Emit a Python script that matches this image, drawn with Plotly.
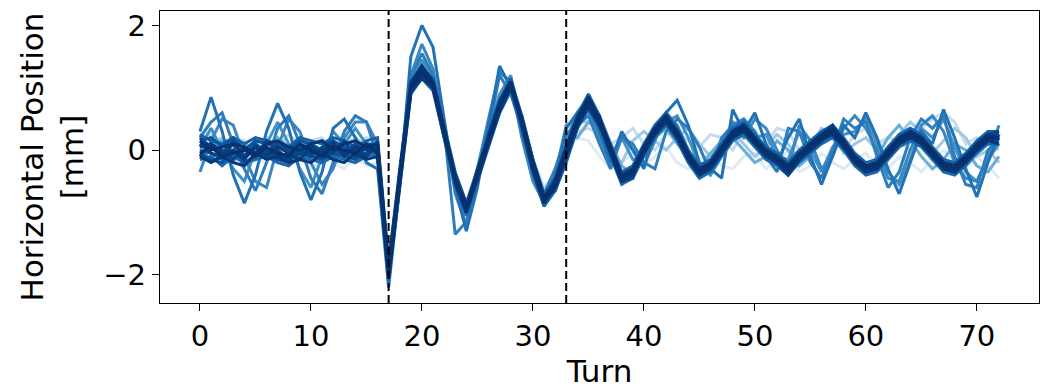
import plotly.graph_objects as go

# ---------------- data ----------------
TURNS = list(range(73))
KICK_TURNS = [17, 33]
Y_TICKS = [-2, 0, 2]
X_TICKS = [0, 10, 20, 30, 40, 50, 60, 70]

light_1 = [-0.2, -0.05, -0.25, -0.1, -0.3, -0.15, -0.2, 0.0, -0.25, -0.1,
           -0.3, -0.15, -0.2, -0.3, -0.1, -0.25, -0.2, -2.15, -0.6, 0.9,
           1.15, 0.95, 0.25, -0.55, -1.1, -0.5, 0.05, 0.6, 0.95, 0.4,
           -0.2, -0.65, -0.35, 0.0, 0.2, 0.15, -0.1, -0.3, -0.2, -0.05,
           -0.25, -0.1, 0.05, -0.2, -0.3, -0.15, -0.05, -0.25, -0.3, -0.1,
           -0.05, -0.3, -0.2, 0.0, -0.35, -0.25, -0.05, -0.2, -0.3, -0.15,
           -0.05, -0.25, -0.3, -0.1, -0.2, -0.35, -0.15, 0.0, -0.2, -0.3,
           -0.1, -0.25, -0.45]
light_2 = [0.1, 0.25, 0.0, 0.2, 0.15, -0.1, 0.2, 0.05, 0.25, 0.1,
           0.15, 0.2, 0.0, 0.25, 0.1, 0.2, 0.15, -1.9, -0.4, 1.0,
           1.25, 1.0, 0.3, -0.5, -1.0, -0.4, 0.2, 0.7, 1.0, 0.5,
           -0.15, -0.6, -0.4, 0.1, 0.3, 0.35, 0.25, 0.1, 0.2, 0.35,
           0.1, 0.0, 0.25, 0.3, 0.15, 0.05, 0.25, 0.2, 0.0, 0.3,
           0.3, 0.1, 0.35, 0.3, 0.0, -0.05, 0.3, 0.2, 0.0, 0.25,
           0.35, 0.1, 0.2, 0.15, 0.0, 0.35, 0.5, 0.6, 0.45, 0.1,
           0.2, 0.1, 0.0]
light_3 = [0.0, 0.1, 0.2, -0.05, 0.0, 0.15, -0.1, 0.1, 0.0, 0.2,
           0.05, -0.05, 0.1, 0.0, 0.2, 0.05, 0.0, -2.0, -0.5, 0.95,
           1.2, 1.05, 0.35, -0.4, -0.9, -0.45, 0.1, 0.65, 1.0, 0.45,
           -0.2, -0.7, -0.45, 0.15, 0.45, 0.45, 0.3, -0.05, -0.2, 0.15,
           0.3, 0.15, 0.0, 0.2, 0.35, 0.1, -0.1, 0.15, 0.3, 0.1,
           -0.1, 0.05, 0.25, 0.1, -0.15, 0.05, 0.35, 0.25, -0.05, 0.1,
           0.2, 0.0, -0.15, 0.25, 0.45, 0.3, -0.05, 0.15, 0.35, 0.2,
           -0.1, 0.0, -0.2]
light_4 = [-0.1, 0.05, 0.15, -0.2, 0.1, 0.0, -0.15, 0.2, 0.05, -0.1,
           0.1, -0.2, 0.0, 0.1, -0.15, 0.05, -0.05, -1.95, -0.45, 1.05,
           1.3, 1.1, 0.3, -0.6, -1.0, -0.35, 0.2, 0.75, 1.05, 0.45,
           -0.2, -0.7, -0.45, 0.3, 0.2, 0.45, 0.35, 0.1, -0.25, -0.4,
           -0.1, 0.2, 0.35, 0.1, -0.1, -0.3, -0.05, 0.15, 0.2, 0.0,
           -0.2, -0.1, 0.15, 0.0, -0.25, -0.1, 0.2, 0.35, 0.15, -0.2,
           -0.35, -0.1, 0.2, 0.4, 0.15, -0.1, -0.3, -0.15, 0.1, 0.0,
           -0.25, -0.35, -0.1]

medium_1 = [0.05, 0.35, 0.0, -0.3, -0.5, 0.0, 0.1, 0.45, 0.1, -0.3,
            -0.6, -0.1, 0.3, 0.1, 0.35, 0.1, -0.15, -2.05, -0.45, 1.05,
            1.45, 1.15, 0.3, -0.6, -1.05, -0.45, 0.3, 0.9, 1.2, 0.4,
            -0.3, -0.75, -0.4, 0.4, 0.45, 0.7, 0.35, -0.1, 0.2, -0.15,
            -0.1, 0.3, 0.45, 0.55, 0.2, -0.25, -0.4, -0.1, 0.45, 0.35,
            0.2, 0.25, -0.1, -0.15, 0.3, 0.0, -0.35, 0.05, 0.25, 0.3,
            0.5, 0.1, -0.35, -0.55, -0.15, 0.35, 0.2, 0.5, 0.05, -0.35,
            -0.5, -0.15, 0.1]
medium_2 = [-0.35, 0.15, 0.5, 0.4, -0.1, -0.5, -0.6, 0.05, 0.5, 0.3,
            -0.2, -0.55, -0.3, 0.2, 0.45, 0.45, 0.1, -2.0, -0.4, 1.2,
            1.7, 1.3, 0.4, -0.7, -1.2, -0.3, 0.5, 1.25, 1.1, 0.2,
            -0.5, -0.85, -0.45, 0.2, 0.55, 0.65, 0.2, -0.25, 0.25, 0.0,
            -0.25, 0.15, 0.6, 0.4, 0.0, -0.35, -0.2, 0.1, 0.4, 0.2,
            0.5, 0.35, 0.0, -0.3, 0.4, 0.15, -0.3, -0.1, 0.35, 0.55,
            0.35, 0.0, -0.45, -0.5, 0.0, 0.4, 0.55, 0.3, -0.2, -0.45,
            -0.5, -0.1, 0.4]
medium_3 = [0.2, 0.45, 0.6, 0.1, -0.3, -0.65, -0.2, 0.35, 0.55, 0.1,
            -0.45, -0.7, -0.2, 0.3, 0.55, 0.45, -0.1, -2.1, -0.5, 1.15,
            1.55, 1.2, 0.35, -1.35, -1.15, -0.5, 0.3, 1.2, 0.9, 0.35,
            -0.4, -0.7, -0.3, 0.25, 0.4, 0.55, 0.1, -0.3, 0.2, 0.1,
            -0.2, -0.3, 0.3, 0.5, 0.35, 0.05, -0.35, 0.2, 0.4, 0.5,
            0.3, -0.1, -0.35, 0.35, 0.3, -0.2, -0.45, 0.0, 0.5, 0.35,
            0.45, -0.1, -0.6, -0.35, 0.2, 0.5, 0.35, 0.55, -0.1, -0.55,
            -0.6, 0.0, 0.2]
medium_4 = [0.3, 0.85, 0.3, -0.4, -0.85, -0.4, 0.3, 0.75, 0.35, -0.35,
            -0.8, -0.35, 0.35, 0.5, 0.2, -0.2, -0.3, -2.2, -0.55, 1.5,
            2.0, 1.65, 0.5, -0.6, -1.3, -0.6, 0.4, 1.35, 1.0, 0.3,
            -0.35, -0.9, -0.5, 0.35, 0.6, 0.85, 0.3, -0.2, 0.3, 0.0,
            -0.3, 0.35, 0.6, 0.8, 0.4, -0.2, -0.3, -0.45, 0.65, 0.3,
            0.6, 0.1, -0.2, 0.2, 0.5, -0.1, -0.55, -0.1, 0.4, 0.2,
            0.6, 0.2, -0.3, -0.7, -0.2, 0.3, 0.1, 0.65, 0.2, -0.3,
            -0.75, -0.2, 0.25]

dark_1 = [-0.15, -0.1, -0.25, -0.1, -0.2, -0.15, -0.1, -0.2, -0.25, -0.1,
          -0.15, -0.2, -0.1, -0.15, -0.2, -0.1, -0.05, -2.1, -0.6, 0.9,
          1.15, 0.95, 0.2, -0.55, -1.05, -0.5, 0.05, 0.6, 0.95, 0.35,
          -0.35, -0.9, -0.65, -0.2, 0.35, 0.65, 0.35, -0.1, -0.55, -0.45,
          -0.1, 0.2, 0.4, 0.15, -0.2, -0.45, -0.35, -0.1, 0.15, 0.25,
          0.05, -0.15, -0.25, -0.4, -0.2, -0.05, 0.1, 0.2, 0.0, -0.25,
          -0.4, -0.35, -0.15, 0.05, 0.15, 0.05, -0.15, -0.35, -0.4, -0.25,
          -0.05, 0.1, 0.1]
dark_2 = [0.25, 0.15, 0.1, 0.2, 0.1, 0.2, 0.15, 0.1, 0.05, 0.2,
          0.15, 0.1, 0.2, 0.15, 0.05, 0.15, 0.2, -1.8, -0.3, 1.1,
          1.3, 1.15, 0.4, -0.35, -0.85, -0.3, 0.25, 0.8, 1.15, 0.55,
          -0.15, -0.7, -0.45, 0.05, 0.55, 0.9, 0.55, 0.1, -0.35, -0.25,
          0.1, 0.4, 0.6, 0.35, 0.0, -0.25, -0.15, 0.1, 0.35, 0.45,
          0.25, 0.05, -0.05, -0.2, 0.0, 0.15, 0.3, 0.4, 0.2, -0.05,
          -0.2, -0.15, 0.05, 0.25, 0.35, 0.25, 0.05, -0.15, -0.2, -0.05,
          0.15, 0.3, 0.3]
dark_3 = [0.0, -0.05, -0.15, -0.05, -0.1, 0.05, 0.0, -0.1, -0.15, 0.05,
          -0.05, -0.1, 0.0, -0.05, -0.1, -0.05, 0.05, -2.0, -0.45, 1.0,
          1.25, 1.05, 0.3, -0.45, -0.95, -0.4, 0.15, 0.7, 1.05, 0.45,
          -0.25, -0.8, -0.55, -0.05, 0.45, 0.75, 0.45, 0.0, -0.45, -0.35,
          0.0, 0.3, 0.5, 0.25, -0.1, -0.35, -0.25, 0.0, 0.25, 0.35,
          0.15, -0.05, -0.15, -0.3, -0.1, 0.05, 0.2, 0.3, 0.1, -0.15,
          -0.3, -0.25, -0.05, 0.15, 0.25, 0.15, -0.05, -0.25, -0.3, -0.15,
          0.05, 0.2, 0.2]
dark_4 = [0.15, 0.2, 0.05, 0.2, 0.0, 0.15, 0.1, 0.05, 0.0, 0.15,
          0.1, 0.0, 0.15, 0.05, 0.0, 0.1, 0.1, -1.9, -0.4, 1.05,
          1.3, 1.1, 0.25, -0.5, -0.95, -0.35, 0.2, 0.75, 1.05, 0.4,
          -0.3, -0.8, -0.5, 0.0, 0.5, 0.8, 0.45, -0.05, -0.5, -0.35,
          0.05, 0.35, 0.5, 0.25, -0.15, -0.35, -0.2, 0.05, 0.3, 0.35,
          0.1, -0.05, -0.2, -0.3, -0.05, 0.1, 0.25, 0.35, 0.1, -0.15,
          -0.3, -0.25, 0.0, 0.2, 0.25, 0.1, -0.05, -0.25, -0.3, -0.15,
          0.05, 0.25, 0.25]
dark_5 = [-0.05, -0.15, -0.2, 0.0, -0.2, -0.1, -0.05, -0.15, -0.2, 0.0,
          -0.1, -0.15, -0.05, -0.1, -0.15, -0.05, 0.0, -2.05, -0.55, 0.9,
          1.2, 1.0, 0.35, -0.4, -0.85, -0.5, 0.1, 0.6, 1.0, 0.55,
          -0.15, -0.75, -0.65, -0.15, 0.35, 0.7, 0.5, 0.05, -0.4, -0.4,
          -0.05, 0.25, 0.5, 0.3, -0.05, -0.3, -0.3, -0.05, 0.2, 0.35,
          0.2, 0.0, -0.15, -0.3, -0.15, 0.0, 0.15, 0.3, 0.15, -0.1,
          -0.3, -0.3, -0.1, 0.1, 0.2, 0.2, 0.0, -0.2, -0.3, -0.15,
          0.0, 0.15, 0.15]
dark_6 = [0.2, 0.05, -0.05, 0.15, -0.1, 0.1, -0.05, 0.1, 0.0, -0.05,
          -0.1, 0.05, 0.15, -0.05, 0.1, -0.1, 0.15, -1.85, -0.35, 1.1,
          1.35, 1.0, 0.2, -0.55, -1.0, -0.3, 0.25, 0.8, 1.1, 0.35,
          -0.35, -0.85, -0.45, 0.05, 0.55, 0.8, 0.55, -0.05, -0.5, -0.45,
          0.05, 0.35, 0.55, 0.2, -0.15, -0.4, -0.2, 0.05, 0.3, 0.4,
          0.1, -0.1, -0.2, -0.35, -0.05, 0.1, 0.25, 0.25, 0.05, -0.2,
          -0.35, -0.2, 0.0, 0.2, 0.3, 0.1, -0.1, -0.3, -0.35, -0.2,
          0.1, 0.25, 0.15]
dark_7 = [-0.1, 0.1, 0.0, -0.15, 0.05, -0.1, 0.15, 0.0, -0.15, -0.05,
          0.1, -0.1, -0.05, 0.15, -0.1, 0.05, -0.05, -2.0, -0.5, 0.95,
          1.2, 1.1, 0.35, -0.4, -0.9, -0.45, 0.1, 0.65, 1.0, 0.5,
          -0.2, -0.75, -0.6, -0.1, 0.4, 0.7, 0.4, 0.05, -0.4, -0.3,
          -0.05, 0.25, 0.45, 0.3, -0.05, -0.3, -0.3, -0.05, 0.2, 0.3,
          0.2, 0.0, -0.1, -0.25, -0.15, 0.0, 0.15, 0.35, 0.15, -0.1,
          -0.25, -0.3, -0.1, 0.1, 0.3, 0.2, 0.0, -0.2, -0.25, -0.1,
          0.0, 0.15, 0.25]
dark_8 = [0.1, -0.05, -0.1, 0.1, -0.1, 0.05, 0.0, -0.1, -0.05, 0.1,
          -0.05, 0.0, 0.1, -0.05, 0.0, -0.1, 0.1, -1.9, -0.4, 1.05,
          1.3, 1.0, 0.25, -0.5, -1.0, -0.35, 0.2, 0.75, 1.1, 0.4,
          -0.3, -0.85, -0.5, 0.0, 0.5, 0.85, 0.5, -0.05, -0.5, -0.4,
          0.05, 0.35, 0.55, 0.2, -0.15, -0.4, -0.3, 0.05, 0.3, 0.4,
          0.2, -0.05, -0.2, -0.4, -0.15, 0.1, 0.25, 0.4, 0.15, -0.2,
          -0.35, -0.3, -0.05, 0.2, 0.3, 0.2, -0.1, -0.3, -0.35, -0.2,
          0.1, 0.25, 0.3]
dark_9 = [0.05, 0.1, -0.05, 0.0, -0.15, 0.05, -0.1, 0.05, -0.05, -0.15,
          0.05, -0.05, 0.1, -0.1, 0.05, 0.0, 0.0, -1.95, -0.5, 1.0,
          1.2, 1.0, 0.3, -0.5, -0.9, -0.4, 0.15, 0.65, 1.05, 0.5,
          -0.2, -0.75, -0.6, 0.0, 0.45, 0.7, 0.4, 0.05, -0.45, -0.3,
          0.0, 0.3, 0.45, 0.3, -0.1, -0.3, -0.25, 0.05, 0.25, 0.3,
          0.15, 0.0, -0.15, -0.25, -0.1, 0.1, 0.2, 0.25, 0.1, -0.1,
          -0.25, -0.2, -0.05, 0.15, 0.2, 0.15, -0.05, -0.2, -0.25, -0.1,
          0.05, 0.15, 0.2]
dark_10 = [-0.1, -0.2, -0.1, -0.2, -0.25, -0.05, -0.15, -0.1, -0.2, -0.15,
           -0.2, -0.05, -0.15, -0.2, -0.05, -0.15, -0.1, -2.05, -0.5, 0.95,
           1.15, 1.0, 0.25, -0.5, -1.0, -0.45, 0.1, 0.65, 1.0, 0.45,
           -0.3, -0.85, -0.6, -0.1, 0.4, 0.7, 0.4, -0.05, -0.5, -0.4,
           -0.05, 0.25, 0.45, 0.2, -0.15, -0.4, -0.3, -0.05, 0.2, 0.3,
           0.1, -0.1, -0.2, -0.35, -0.15, 0.0, 0.15, 0.25, 0.05, -0.2,
           -0.35, -0.3, -0.1, 0.1, 0.2, 0.1, -0.1, -0.3, -0.35, -0.2,
           0.0, 0.15, 0.1]
dark_11 = [0.15, 0.0, 0.05, 0.1, 0.05, -0.05, 0.1, 0.15, 0.05, 0.0,
           0.1, 0.15, 0.0, 0.1, 0.15, 0.05, 0.1, -1.85, -0.35, 1.05,
           1.35, 1.1, 0.35, -0.45, -0.9, -0.35, 0.2, 0.75, 1.1, 0.5,
           -0.2, -0.75, -0.5, 0.05, 0.5, 0.85, 0.5, 0.05, -0.4, -0.3,
           0.05, 0.35, 0.55, 0.3, -0.05, -0.3, -0.2, 0.05, 0.3, 0.4,
           0.2, 0.0, -0.1, -0.25, -0.05, 0.1, 0.25, 0.35, 0.15, -0.1,
           -0.25, -0.2, 0.0, 0.2, 0.3, 0.2, 0.0, -0.2, -0.25, -0.1,
           0.1, 0.25, 0.2]
dark_12 = [-0.05, 0.05, -0.1, -0.05, 0.0, -0.1, 0.05, -0.05, -0.1, 0.1,
           0.0, -0.1, 0.05, 0.0, -0.05, 0.1, -0.05, -2.0, -0.45, 1.0,
           1.25, 1.05, 0.3, -0.45, -0.95, -0.4, 0.15, 0.7, 1.05, 0.45,
           -0.25, -0.8, -0.55, -0.05, 0.45, 0.8, 0.45, 0.0, -0.45, -0.35,
           0.0, 0.3, 0.5, 0.25, -0.1, -0.35, -0.25, 0.0, 0.25, 0.35,
           0.15, -0.05, -0.15, -0.3, -0.1, 0.05, 0.2, 0.3, 0.1, -0.15,
           -0.3, -0.25, -0.05, 0.15, 0.25, 0.15, -0.05, -0.25, -0.3, -0.15,
           0.05, 0.2, 0.2]

SERIES = [light_1, light_2, light_3, light_4,
          medium_1, medium_2, medium_3, medium_4,
          dark_1, dark_2, dark_3, dark_4, dark_5, dark_6,
          dark_7, dark_8, dark_9, dark_10, dark_11, dark_12]

# ---------------- style ----------------
LINE_COLORS = ["#deebf7", "#c6dbef", "#9ecae1", "#6baed6",
               "#4292c6", "#3a87c1", "#2f7dbb", "#2171b5",
               "#1a68ae", "#1562a8", "#105ba4", "#0b559f",
               "#08509a", "#084b93", "#08468c", "#084184",
               "#083c7d", "#083776", "#083370", "#08306b"]
FONT = "DejaVu Sans"

fig = go.Figure()
for ys, col in zip(SERIES, LINE_COLORS):
    fig.add_trace(go.Scatter(x=TURNS[:len(ys)], y=ys, mode="lines",
                             line=dict(color=col, width=3),
                             showlegend=False, hoverinfo="skip"))

for k in KICK_TURNS:
    fig.add_vline(x=k, line=dict(color="black", width=2, dash="8px,4px"))

axis_common = dict(showline=True, linecolor="black", linewidth=1.3, mirror=True,
                   ticks="outside", ticklen=7, tickwidth=1.3, tickcolor="black",
                   showgrid=False, zeroline=False,
                   tickfont=dict(family=FONT, size=29, color="black"))

fig.update_layout(
    width=1048, height=389,
    margin=dict(l=160, r=8, t=11, b=82),
    plot_bgcolor="white", paper_bgcolor="white",
    xaxis=dict(range=[-3.6, 75.6], tickvals=X_TICKS,
               title=dict(text="Turn", font=dict(family=FONT, size=31, color="black"),
                          standoff=6),
               **axis_common),
    yaxis=dict(range=[-2.45, 2.23], tickvals=Y_TICKS,
               tickformat="d",
               title=dict(text="Horizontal Position<br>[mm]",
                          font=dict(family=FONT, size=31, color="black"),
                          standoff=10),
               **axis_common),
)

fig.write_html("out.html")
